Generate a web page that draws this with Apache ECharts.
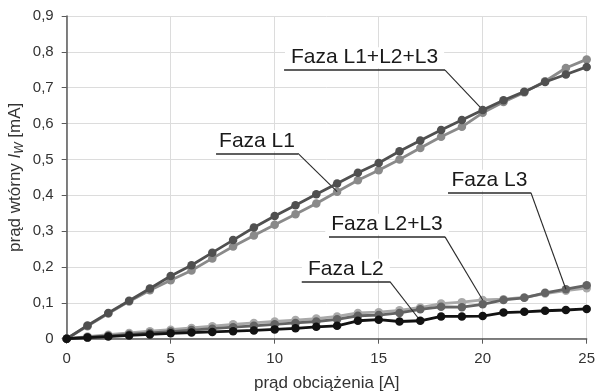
<!DOCTYPE html>
<html><head><meta charset="utf-8">
<script src="https://cdn.jsdelivr.net/npm/echarts@6/dist/echarts.min.js"></script>
<style>html,body{margin:0;padding:0;background:#fff}#c{width:595px;height:391px}</style>
</head><body><div id="c"></div>
<script>
const xValues = [0,1,2,3,4,5,6,7,8,9,10,11,12,13,14,15,16,17,18,19,20,21,22,23,24,25];
const fazaL123 = [0,0.037,0.072,0.106,0.14,0.175,0.205,0.24,0.275,0.31,0.342,0.372,0.403,0.433,0.463,0.49,0.523,0.553,0.582,0.61,0.638,0.665,0.689,0.716,0.737,0.758];
const fazaL1 = [0,0.035,0.07,0.104,0.135,0.163,0.19,0.224,0.257,0.288,0.318,0.347,0.377,0.41,0.442,0.47,0.5,0.532,0.563,0.591,0.63,0.66,0.687,0.718,0.755,0.779];
const fazaL2L3 = [0,0.006,0.011,0.016,0.021,0.025,0.03,0.035,0.04,0.044,0.048,0.052,0.056,0.062,0.072,0.074,0.079,0.087,0.098,0.102,0.108,0.11,0.115,0.126,0.134,0.141];
const fazaL3 = [0,0.004,0.008,0.012,0.016,0.02,0.024,0.028,0.032,0.036,0.04,0.044,0.048,0.054,0.064,0.066,0.072,0.082,0.089,0.088,0.096,0.108,0.114,0.128,0.138,0.149];
const fazaL2 = [0,0.003,0.006,0.009,0.012,0.015,0.017,0.019,0.021,0.023,0.026,0.029,0.033,0.036,0.05,0.053,0.048,0.05,0.062,0.062,0.063,0.073,0.075,0.078,0.08,0.083];
const xTicks = [0,5,10,15,20,25];
const yTicks = ['0','0,1','0,2','0,3','0,4','0,5','0,6','0,7','0,8','0,9'];

// annotation layout (data coordinates): underline y, x start, x end, pointed index
const ann = {
  L123: {text:'Faza L1+L2+L3', y:0.749, x1:10.45, x2:18.19, idx:20},
  L1:   {text:'Faza L1',       y:0.517, x1:7.18,  x2:11.12, idx:13},
  L3:   {text:'Faza L3',       y:0.407, x1:18.33, x2:22.32, idx:24},
  L2L3: {text:'Faza L2+L3',    y:0.284, x1:12.61, x2:18.19, idx:20},
  L2:   {text:'Faza L2',       y:0.159, x1:11.3,  x2:15.54, idx:17}
};

function pairs(arr){ return xValues.map((x,i)=>[x,arr[i]]); }
function annMark(a, arr){
  return {
    silent:true, symbol:'none', animation:false,
    data:[
      [{coord:[a.x1,a.y], lineStyle:{color:'#2a2a2a',width:1.6,type:'solid'},
        label:{show:true, position:'insideMiddleTop', formatter:a.text, fontSize:21, fontFamily:'Liberation Sans, Arial, sans-serif',
               color:'#1a1a1a', backgroundColor:'#fff', padding:[0,6,0,6], distance:2}},
       {coord:[a.x2,a.y]}],
      [{coord:[a.x2,a.y], lineStyle:{color:'#2a2a2a',width:1.1,type:'solid'}, label:{show:false}},
       {coord:[xValues[a.idx], arr[a.idx]]}]
    ]
  };
}
function ser(name, arr, color, z, a){
  return {name, type:'line', data:pairs(arr), z, symbol:'circle', symbolSize:8.5, showSymbol:true,
    lineStyle:{color, width:2.8}, itemStyle:{color, borderWidth:0}, emphasis:{disabled:true},
    markLine: annMark(a, arr)};
}
const chart = echarts.init(document.getElementById('c'), null, {renderer:'canvas'});
const font = 'Liberation Sans, Arial, sans-serif';
chart.setOption({
  animation:false,
  backgroundColor:'#fff',
  grid:{left:66.7, right:8.3, top:16, bottom:52.3, containLabel:false, outerBoundsMode:'none'},
  xAxis:{type:'value', min:0, max:25, interval:5,
    name:'prąd obciążenia [A]', nameLocation:'middle', nameGap:36,
    nameTextStyle:{fontSize:17, color:'#333', fontFamily:font},
    axisLine:{show:true, lineStyle:{color:'#5a5a5a', width:1.5}},
    axisTick:{show:true, length:5, lineStyle:{color:'#5a5a5a'}},
    axisLabel:{fontSize:15, color:'#333', fontFamily:font, margin:13, formatter:v=>xTicks.includes(v)?String(v):''},
    splitLine:{show:true, lineStyle:{color:'#dcdcdc', width:1}}},
  yAxis:{type:'value', min:0, max:0.9, interval:0.1,
    name:'{a|prąd wtórny }{i|I}{s|W}{a| [mA]}', nameLocation:'middle', nameGap:41, nameRotate:90, nameMoveOverlap:false,
    nameTextStyle:{fontSize:17, color:'#333', fontFamily:font,
      rich:{a:{fontSize:17, color:'#333', fontFamily:font},
            i:{fontSize:17, color:'#333', fontStyle:'italic', fontFamily:font},
            s:{fontSize:12, color:'#333', fontStyle:'italic', fontFamily:font, verticalAlign:'bottom', padding:[8,0,0,0]}}},
    axisLine:{show:true, lineStyle:{color:'#5a5a5a', width:1.5}},
    axisTick:{show:true, length:5, lineStyle:{color:'#5a5a5a'}},
    axisLabel:{fontSize:15, color:'#333', fontFamily:font, margin:13,
      formatter:v=>yTicks[Math.round(v*10)]},
    splitLine:{show:true, lineStyle:{color:'#dcdcdc', width:1}}},
  series:[
    ser('Faza L2+L3', fazaL2L3, '#a9a9a9', 2, ann.L2L3),
    ser('Faza L3', fazaL3, '#636363', 3, ann.L3),
    ser('Faza L1', fazaL1, '#8a8a8a', 4, ann.L1),
    ser('Faza L1+L2+L3', fazaL123, '#505050', 5, ann.L123),
    ser('Faza L2', fazaL2, '#121212', 6, ann.L2)
  ]
});
</script></body></html>
